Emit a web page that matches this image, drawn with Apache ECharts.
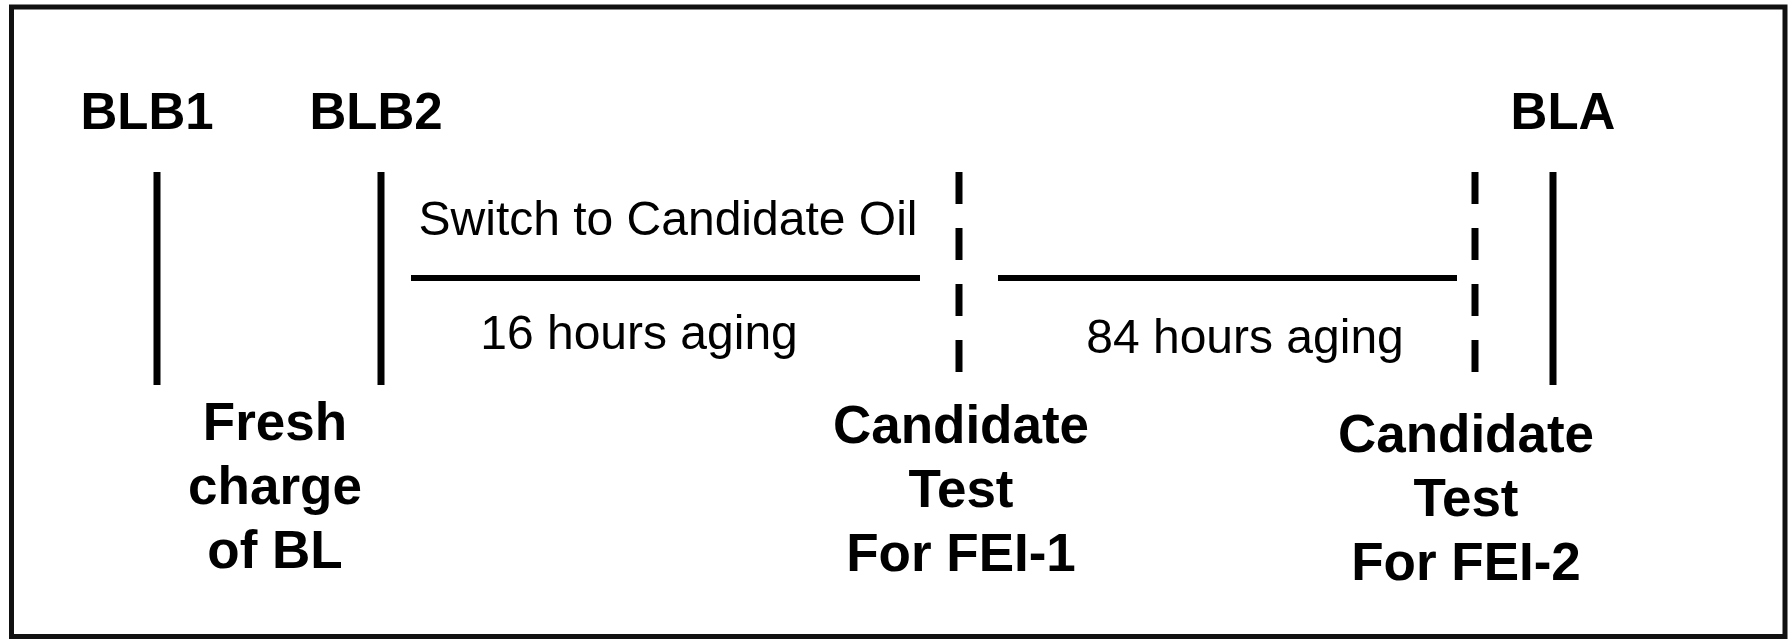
<!DOCTYPE html>
<html lang="en">
<head>
  <meta charset="UTF-8">
  <title>Candidate oil test sequence</title>
  <script src="https://cdn.jsdelivr.net/npm/echarts@6/dist/echarts.min.js"></script>
  <style>
    html, body { margin: 0; padding: 0; background: #fff; }
    #wrap { width: 1790px; height: 639px; }
  </style>
</head>
<body>
<div id="wrap"></div>
<script>
  // timeline events (position along the timeline axis)
  const markerNames = ['BLB1', 'BLB2', 'FEI-1', 'FEI-2', 'BLA']
  const markerPos = [157, 381, 959, 1475, 1553]
  const markerDashed = [false, false, true, true, false]

  // labels above the markers
  const topLabels = ['BLB1', 'BLB2', 'BLA']
  const topLabelPos = [147, 376, 1563]

  // notes under the markers
  const bottomNotes = ['Fresh\ncharge\nof BL', 'Candidate\nTest\nFor FEI-1', 'Candidate\nTest\nFor FEI-2']
  const bottomNotePos = [275, 961, 1466]
  const bottomNoteLevel = [489, 492, 501]

  // aging periods
  const periodStart = [411, 998]
  const periodEnd = [920, 1457]
  const periodLabels = ['16 hours aging', '84 hours aging']
  const periodLabelPos = [639, 1245]
  const periodLabelLevel = [336, 340]
  const switchLabel = 'Switch to Candidate Oil'
  const switchLabelPos = 668
  const switchLabelLevel = 222

  const markerTop = 172
  const markerBottom = 385
  const dashBottom = 372
  const periodLevel = 278

  const chart = echarts.init(document.querySelector('#wrap'))

  const series = []

  // vertical markers
  markerPos.forEach((x, i) => {
    series.push({
      name: markerNames[i],
      type: 'line',
      silent: true,
      symbol: 'none',
      data: [[x, markerTop], [x, markerDashed[i] ? dashBottom : markerBottom]],
      lineStyle: {
        color: '#000',
        width: 7,
        cap: 'butt',
        type: markerDashed[i] ? [32, 24] : 'solid'
      }
    })
  })

  // horizontal aging periods
  periodStart.forEach((x, i) => {
    series.push({
      type: 'line',
      silent: true,
      symbol: 'none',
      data: [[x, periodLevel], [periodEnd[i], periodLevel]],
      lineStyle: { color: '#000', width: 6, cap: 'butt' }
    })
  })

  const textSeries = (data, size, weight, lineHeight) => ({
    type: 'scatter',
    silent: true,
    symbolSize: 0,
    itemStyle: { color: '#000' },
    data: data,
    label: {
      show: true,
      position: [0, 0],
      formatter: p => p.value[2],
      color: '#000',
      textBorderWidth: 0,
      opacity: 1,
      fontFamily: '"Liberation Sans", Arial, sans-serif',
      fontSize: size,
      fontWeight: weight,
      lineHeight: lineHeight || size,
      align: 'center',
      verticalAlign: 'middle'
    }
  })

  series.push(textSeries(topLabels.map((t, i) => [topLabelPos[i], 115, t]), 51, 'bold'))
  series.push(textSeries(bottomNotes.map((t, i) => [bottomNotePos[i], bottomNoteLevel[i], t]), 53, 'bold', 64))
  series.push(textSeries(
    periodLabels.map((t, i) => [periodLabelPos[i], periodLabelLevel[i], t])
      .concat([[switchLabelPos, switchLabelLevel, switchLabel]]),
    48, 'normal'))

  const ops = {
    animation: false,
    grid: {
      show: true,
      left: 11.5,
      right: 5,
      top: 7,
      bottom: 2.5,
      borderWidth: 5,
      borderColor: '#111',
      backgroundColor: '#fff'
    },
    xAxis: {
      type: 'value',
      min: 11.5,
      max: 1785,
      show: false
    },
    yAxis: {
      type: 'value',
      min: 7,
      max: 636.5,
      inverse: true,
      show: false
    },
    series: series
  }

  chart.setOption(ops)
</script>
</body>
</html>
